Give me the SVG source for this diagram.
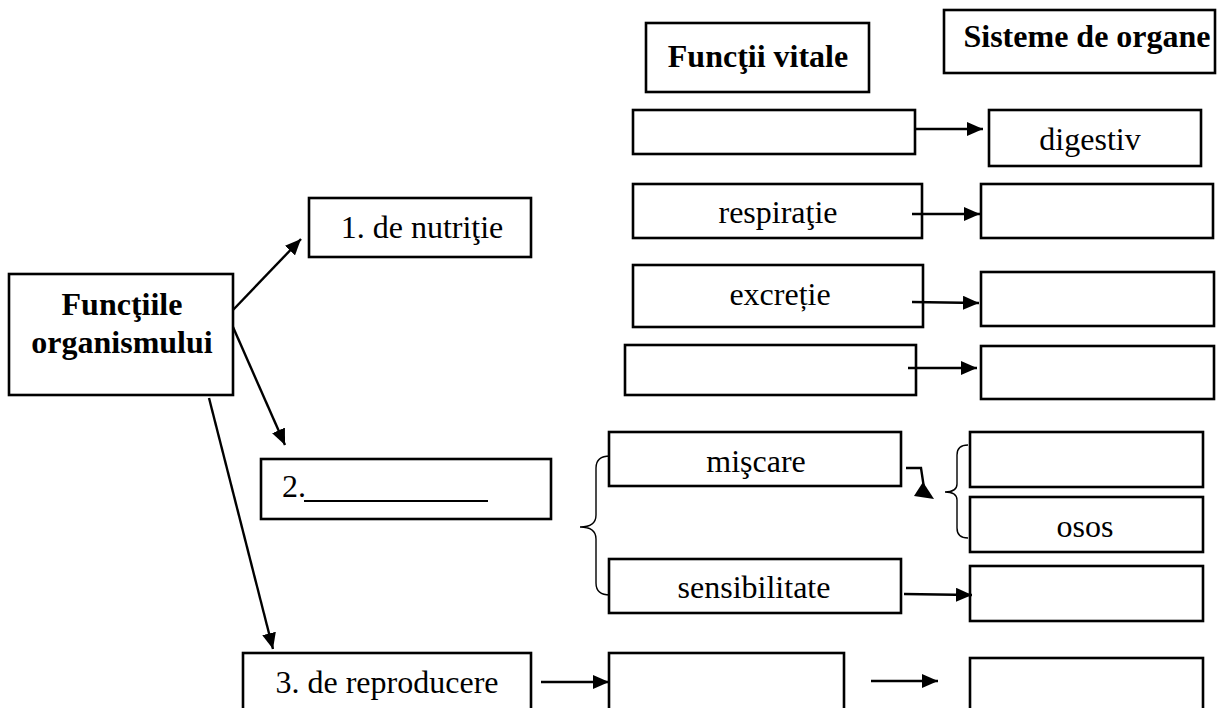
<svg xmlns="http://www.w3.org/2000/svg" width="1220" height="708" viewBox="0 0 1220 708">
<style>
.box{fill:#fff;stroke:#000;stroke-width:2.6}
.t{font-family:"Liberation Serif","Times New Roman",serif;font-size:32px;fill:#000;text-anchor:middle}
.b{font-weight:bold}
.c{stroke:#000;stroke-width:2.4;fill:none}
.br{stroke:#000;stroke-width:1.4;fill:none}
</style>
<defs>
<marker id="ah" markerUnits="userSpaceOnUse" markerWidth="16" markerHeight="14" refX="16" refY="7" orient="auto">
<path d="M0,0 L16,7 L0,14 z" fill="#000"/>
</marker>
</defs>
<rect width="1220" height="708" fill="#fff"/>
<g id="hdr-functii"><rect class="box" x="646" y="23" width="223" height="69"/><text class="t b" x="758" y="67">Funcţii vitale</text></g>
<g id="hdr-sisteme"><rect class="box" x="944" y="10" width="271" height="63"/><text class="t b" x="1087" y="47">Sisteme de organe</text></g>
<g id="r1-left"><rect class="box" x="633" y="110" width="282" height="44"/></g>
<g id="r1-right"><rect class="box" x="989" y="110" width="212" height="56"/><text class="t" x="1090" y="150">digestiv</text></g>
<g id="r2-left"><rect class="box" x="633" y="184" width="289" height="54"/><text class="t" x="778" y="223">respiraţie</text></g>
<g id="r2-right"><rect class="box" x="981" y="184" width="232" height="54"/></g>
<g id="r3-left"><rect class="box" x="633" y="265" width="290" height="62"/><text class="t" x="780" y="305">excreție</text></g>
<g id="r3-right"><rect class="box" x="981" y="272" width="233" height="54"/></g>
<g id="r4-left"><rect class="box" x="625" y="345" width="291" height="50"/></g>
<g id="r4-right"><rect class="box" x="981" y="346" width="233" height="53"/></g>
<g id="nutritie"><rect class="box" x="309" y="198" width="222" height="59"/><text class="t" x="422" y="238">1. de nutriţie</text></g>
<g id="functiile"><rect class="box" x="9" y="274" width="224" height="121"/><text class="t b" x="122" y="315">Funcţiile</text><text class="t b" x="122" y="353">organismului</text></g>
<g id="box2"><rect class="box" x="261" y="459" width="290" height="60"/><text class="t" x="282" y="497" style="text-anchor:start">2.</text><line x1="304" y1="501" x2="488" y2="501" stroke="#000" stroke-width="1.8"/></g>
<g id="miscare"><rect class="box" x="609" y="432" width="292" height="54"/><text class="t" x="756" y="472">mişcare</text></g>
<g id="sensibilitate"><rect class="box" x="609" y="559" width="292" height="54"/><text class="t" x="754" y="598">sensibilitate</text></g>
<g id="sist-top"><rect class="box" x="970" y="432" width="233" height="55"/></g>
<g id="osos"><rect class="box" x="970" y="497" width="233" height="55"/><text class="t" x="1085" y="537">osos</text></g>
<g id="sist-sens"><rect class="box" x="970" y="566" width="233" height="55"/></g>
<g id="reproducere"><rect class="box" x="243" y="653" width="288" height="60"/><text class="t" x="387" y="693">3. de reproducere</text></g>
<g id="repr-mid"><rect class="box" x="609" y="653" width="235" height="60"/></g>
<g id="repr-right"><rect class="box" x="970" y="658" width="233" height="55"/></g>
<g id="connectors">
<line class="c" x1="916" y1="129" x2="983" y2="129" marker-end="url(#ah)"/>
<line class="c" x1="912" y1="214" x2="980" y2="214" marker-end="url(#ah)"/>
<line class="c" x1="912" y1="302" x2="979" y2="303" marker-end="url(#ah)"/>
<line class="c" x1="908" y1="368" x2="977" y2="368" marker-end="url(#ah)"/>
<line class="c" x1="233" y1="310" x2="301" y2="239" marker-end="url(#ah)"/>
<line class="c" x1="233" y1="327" x2="285" y2="445" marker-end="url(#ah)"/>
<line class="c" x1="209" y1="398" x2="273" y2="649" marker-end="url(#ah)"/>
<line class="c" x1="541" y1="682" x2="609" y2="682" marker-end="url(#ah)"/>
<line class="c" x1="871" y1="681" x2="938" y2="681" marker-end="url(#ah)"/>
<line class="c" x1="904" y1="594" x2="972" y2="595" marker-end="url(#ah)"/>
<path class="c" d="M906,468 L921,468 L924,488"/>
<polygon points="914,496 934,499 923,482" fill="#000"/>
<path class="br" d="M610,456 Q596,456 596,468 L596,515 Q596,527 580,527 Q596,527 596,539 L596,583 Q596,595 610,595"/>
<path class="br" d="M968,445 Q957,445 957,455 L957,484 Q957,492 945,492 Q957,492 957,500 L957,528 Q957,538 968,538"/>
</g>
</svg>
